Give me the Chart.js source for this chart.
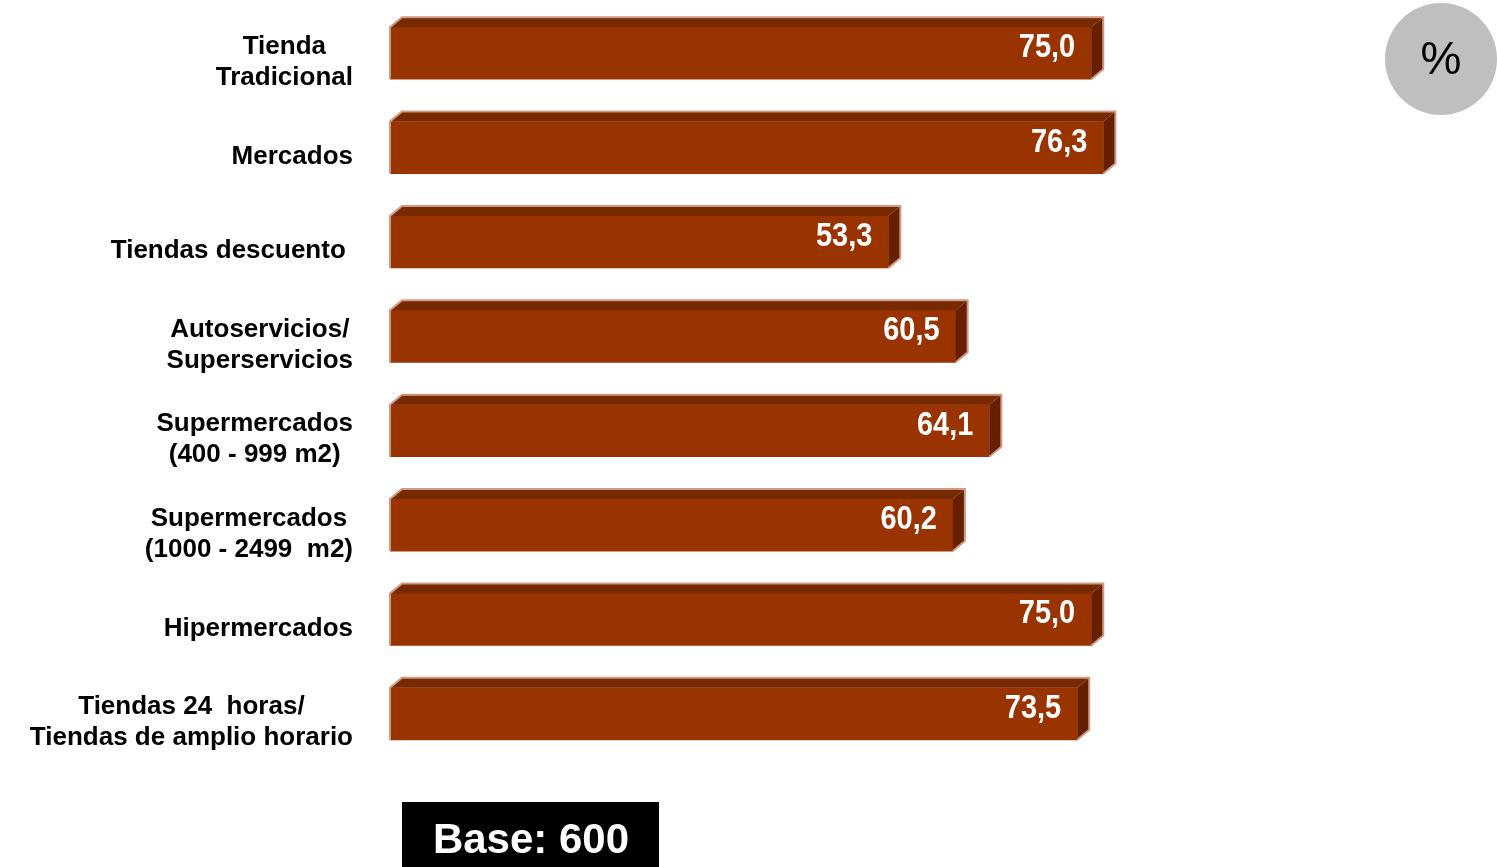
<!DOCTYPE html>
<html>
<head>
<meta charset="utf-8">
<script src="https://cdn.jsdelivr.net/npm/chart.js@4.4.1/dist/chart.umd.min.js"></script>
<style>
  html, body { margin: 0; padding: 0; background: #ffffff; }
  #wrap { position: relative; width: 1497px; height: 867px; }
</style>
</head>
<body>
<div id="wrap"><canvas id="c" width="1497" height="867"></canvas></div>
<script>
// ---- data ----
const categories = [
  ["Tienda", "Tradicional"],
  ["Mercados"],
  ["Tiendas descuento "],
  ["Autoservicios/", "Superservicios"],
  ["Supermercados", "(400 - 999 m2)"],
  ["Supermercados", "(1000 - 2499  m2)"],
  ["Hipermercados"],
  ["Tiendas 24  horas/", "Tiendas de amplio horario"]
];
const values = [75.0, 76.3, 53.3, 60.5, 64.1, 60.2, 75.0, 73.5];
const baseText = "Base: 600";
const unitText = "%";

const fmt = v => v.toFixed(1).replace('.', ',');

const bar3d = {
  id: 'bar3d',
  afterDatasetsDraw(chart) {
    const ctx = chart.ctx;
    const meta = chart.getDatasetMeta(0);
    const dx = 12, dy = 10;
    ctx.save();
    meta.data.forEach((bar, i) => {
      const h = bar.height;
      const top = bar.y - h / 2, bottom = bar.y + h / 2;
      const x0 = bar.base, x1 = bar.x;
      // top face
      ctx.beginPath();
      ctx.moveTo(x0, top);
      ctx.lineTo(x0 + dx, top - dy);
      ctx.lineTo(x1 + dx, top - dy);
      ctx.lineTo(x1, top);
      ctx.closePath();
      ctx.fillStyle = '#772900';
      ctx.fill();
      // side face
      ctx.beginPath();
      ctx.moveTo(x1, top);
      ctx.lineTo(x1 + dx, top - dy);
      ctx.lineTo(x1 + dx, bottom - dy);
      ctx.lineTo(x1, bottom);
      ctx.closePath();
      ctx.fillStyle = '#662000';
      ctx.fill();
      // highlights
      ctx.strokeStyle = '#cf9a84';
      ctx.lineWidth = 2;
      ctx.beginPath();
      ctx.moveTo(x0, bottom);
      ctx.lineTo(x0, top);
      ctx.lineTo(x0 + dx, top - dy);
      ctx.lineTo(x1 + dx, top - dy);
      ctx.lineTo(x1 + dx, bottom - dy);
      ctx.lineTo(x1, bottom);
      ctx.stroke();
      // value label (slightly tall lettering)
      ctx.save();
      ctx.fillStyle = '#ffffff';
      ctx.font = 'bold 29px "Liberation Sans", Arial, sans-serif';
      ctx.textAlign = 'right';
      ctx.textBaseline = 'middle';
      ctx.translate(x1 - 16, bar.y - 5);
      ctx.scale(1, 1.12);
      ctx.fillText(fmt(values[i]), 0, 0);
      ctx.restore();
    });
    // category labels (right aligned block, lines centered)
    const yScale = chart.scales.y;
    ctx.fillStyle = '#000000';
    ctx.font = 'bold 26px "Liberation Sans", Arial, sans-serif';
    ctx.textBaseline = 'middle';
    ctx.textAlign = 'center';
    const lineH = 31;
    const rightX = 353;
    chart.data.labels.forEach((lab, i) => {
      const lines = Array.isArray(lab) ? lab : [lab];
      const w = Math.max(...lines.map(l => ctx.measureText(l).width));
      const cx = rightX - w / 2;
      const cy = yScale.getPixelForTick(i) + 9;
      lines.forEach((l, k) => {
        ctx.fillText(l, cx, cy + (k - (lines.length - 1) / 2) * lineH);
      });
    });
    // % circle
    ctx.beginPath();
    ctx.arc(1441, 59, 56, 0, Math.PI * 2);
    ctx.fillStyle = '#bfbfbf';
    ctx.fill();
    ctx.fillStyle = '#000000';
    ctx.font = '46px "Liberation Sans", Arial, sans-serif';
    ctx.textAlign = 'center';
    ctx.textBaseline = 'middle';
    ctx.fillText(unitText, 1441, 61);
    // base box
    ctx.fillStyle = '#000000';
    ctx.fillRect(402, 802, 257, 65);
    ctx.fillStyle = '#ffffff';
    ctx.font = 'bold 42px "Liberation Sans", Arial, sans-serif';
    ctx.textAlign = 'center';
    ctx.textBaseline = 'alphabetic';
    ctx.fillText(baseText, 531, 853);
    ctx.restore();
  }
};

new Chart(document.getElementById('c'), {
  type: 'bar',
  data: {
    labels: categories,
    datasets: [{
      data: values,
      backgroundColor: '#993300',
      borderWidth: 0,
      barThickness: 52
    }]
  },
  options: {
    indexAxis: 'y',
    responsive: false,
    animation: false,
    layout: { padding: { left: 390, right: 172, top: 6, bottom: 106 } },
    plugins: { legend: { display: false }, tooltip: { enabled: false } },
    scales: {
      x: { display: false, min: 0, max: 100 },
      y: { display: false }
    }
  },
  plugins: [bar3d]
});
</script>
</body>
</html>
